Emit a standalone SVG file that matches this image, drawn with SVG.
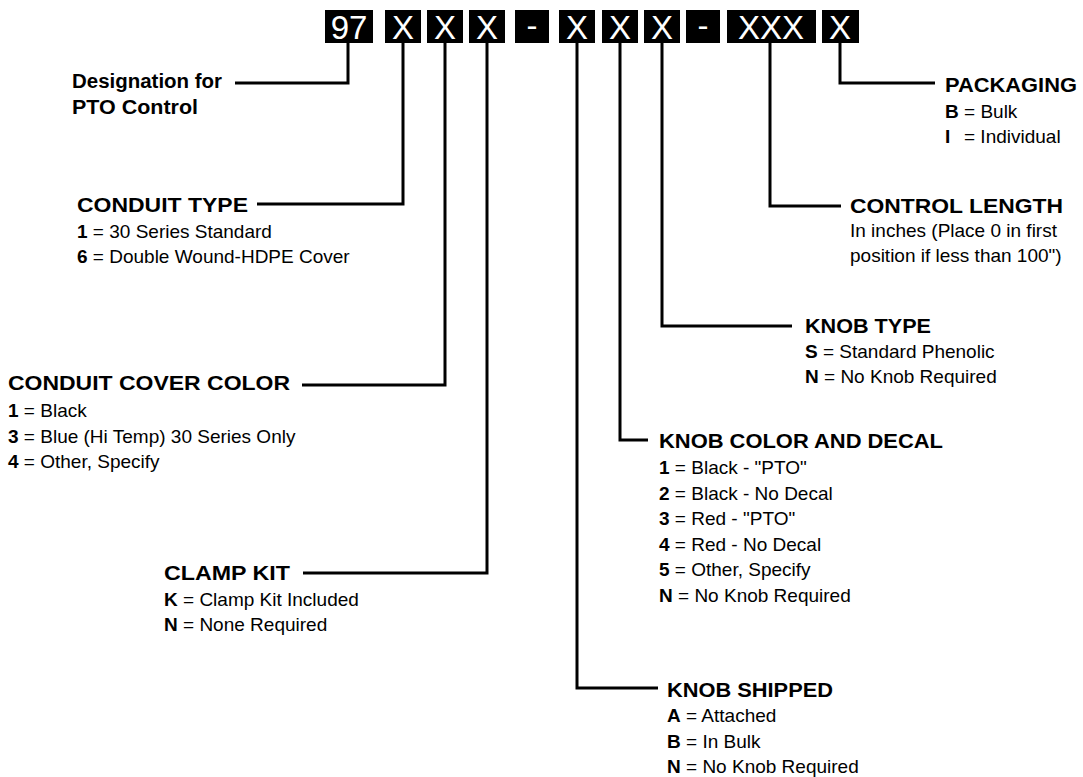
<svg xmlns="http://www.w3.org/2000/svg" width="1083" height="777" viewBox="0 0 1083 777">
<style>
.bx{fill:#000}
.bt{font-family:"Liberation Sans",Arial,sans-serif;font-size:33px;fill:#fff;text-anchor:middle}
.ln{fill:none;stroke:#000;stroke-width:3;stroke-linejoin:miter}
.h{font-family:"Liberation Sans",Arial,sans-serif;font-weight:bold;font-size:20px;fill:#000}
.t{font-family:"Liberation Sans",Arial,sans-serif;font-size:19px;fill:#000}
.b{font-weight:bold}
</style>
<rect width="1083" height="777" fill="#fff"/>
<g id="code">
<rect class="bx" x="325" y="10" width="48" height="33"/><text class="bt" x="349" y="39">97</text>
<rect class="bx" x="385" y="10" width="36" height="33"/><text class="bt" x="403" y="39">X</text>
<rect class="bx" x="427" y="10" width="36" height="33"/><text class="bt" x="445" y="39">X</text>
<rect class="bx" x="469" y="10" width="36" height="33"/><text class="bt" x="487" y="39">X</text>
<rect class="bx" x="515" y="10" width="34" height="33"/><text class="bt" x="532" y="37">-</text>
<rect class="bx" x="559" y="10" width="36" height="33"/><text class="bt" x="577" y="39">X</text>
<rect class="bx" x="602" y="10" width="36" height="33"/><text class="bt" x="620" y="39">X</text>
<rect class="bx" x="644" y="10" width="36" height="33"/><text class="bt" x="662" y="39">X</text>
<rect class="bx" x="686" y="10" width="34" height="33"/><text class="bt" x="703" y="37">-</text>
<rect class="bx" x="727" y="10" width="89" height="33"/><text class="bt" x="771" y="39">XXX</text>
<rect class="bx" x="822" y="10" width="37" height="33"/><text class="bt" x="840" y="39">X</text>
</g>
<g id="connectors">
<path class="ln" d="M348 43V83H235"/>
<path class="ln" d="M403 43V204H257"/>
<path class="ln" d="M445 43V385H302"/>
<path class="ln" d="M487 43V573H303"/>
<path class="ln" d="M577 43V688H658"/>
<path class="ln" d="M620 43V440H648"/>
<path class="ln" d="M662 43V326H792"/>
<path class="ln" d="M770 43V206H841"/>
<path class="ln" d="M840 43V83H935"/>
</g>
<g id="designation">
<text class="h" x="72" y="88" textLength="150" lengthAdjust="spacingAndGlyphs">Designation for</text>
<text class="h" x="72" y="114" textLength="126" lengthAdjust="spacingAndGlyphs">PTO Control</text>
</g>
<g id="conduit-type">
<text class="h" x="77" y="212" textLength="171" lengthAdjust="spacingAndGlyphs">CONDUIT TYPE</text>
<text class="t" x="77" y="238"><tspan class="b">1</tspan> = 30 Series Standard</text>
<text class="t" x="77" y="263"><tspan class="b">6</tspan> = Double Wound-HDPE Cover</text>
</g>
<g id="conduit-cover-color">
<text class="h" x="8" y="390" textLength="282" lengthAdjust="spacingAndGlyphs">CONDUIT COVER COLOR</text>
<text class="t" x="8" y="417"><tspan class="b">1</tspan> = Black</text>
<text class="t" x="8" y="443"><tspan class="b">3</tspan> = Blue (Hi Temp) 30 Series Only</text>
<text class="t" x="8" y="468"><tspan class="b">4</tspan> = Other, Specify</text>
</g>
<g id="clamp-kit">
<text class="h" x="164" y="580" textLength="126" lengthAdjust="spacingAndGlyphs">CLAMP KIT</text>
<text class="t" x="164" y="606"><tspan class="b">K</tspan> = Clamp Kit Included</text>
<text class="t" x="164" y="631"><tspan class="b">N</tspan> = None Required</text>
</g>
<g id="knob-shipped">
<text class="h" x="667" y="697" textLength="166" lengthAdjust="spacingAndGlyphs">KNOB SHIPPED</text>
<text class="t" x="667" y="722"><tspan class="b">A</tspan> = Attached</text>
<text class="t" x="667" y="748"><tspan class="b">B</tspan> = In Bulk</text>
<text class="t" x="667" y="773"><tspan class="b">N</tspan> = No Knob Required</text>
</g>
<g id="knob-color-decal">
<text class="h" x="659" y="448" textLength="284" lengthAdjust="spacingAndGlyphs">KNOB COLOR AND DECAL</text>
<text class="t" x="659" y="474"><tspan class="b">1</tspan> = Black - "PTO"</text>
<text class="t" x="659" y="500"><tspan class="b">2</tspan> = Black - No Decal</text>
<text class="t" x="659" y="525"><tspan class="b">3</tspan> = Red - "PTO"</text>
<text class="t" x="659" y="551"><tspan class="b">4</tspan> = Red - No Decal</text>
<text class="t" x="659" y="576"><tspan class="b">5</tspan> = Other, Specify</text>
<text class="t" x="659" y="602"><tspan class="b">N</tspan> = No Knob Required</text>
</g>
<g id="knob-type">
<text class="h" x="805" y="333" textLength="126" lengthAdjust="spacingAndGlyphs">KNOB TYPE</text>
<text class="t" x="805" y="358"><tspan class="b">S</tspan> = Standard Phenolic</text>
<text class="t" x="805" y="383"><tspan class="b">N</tspan> = No Knob Required</text>
</g>
<g id="control-length">
<text class="h" x="850" y="213" textLength="213" lengthAdjust="spacingAndGlyphs">CONTROL LENGTH</text>
<text class="t" x="850" y="237">In inches (Place 0 in first</text>
<text class="t" x="850" y="262">position if less than 100")</text>
</g>
<g id="packaging">
<text class="h" x="945" y="92" textLength="132" lengthAdjust="spacingAndGlyphs">PACKAGING</text>
<text class="t" x="945" y="118"><tspan class="b">B</tspan> = Bulk</text>
<text class="t" x="945" y="143"><tspan class="b">I</tspan><tspan x="964">= Individual</tspan></text>
</g>
</svg>
